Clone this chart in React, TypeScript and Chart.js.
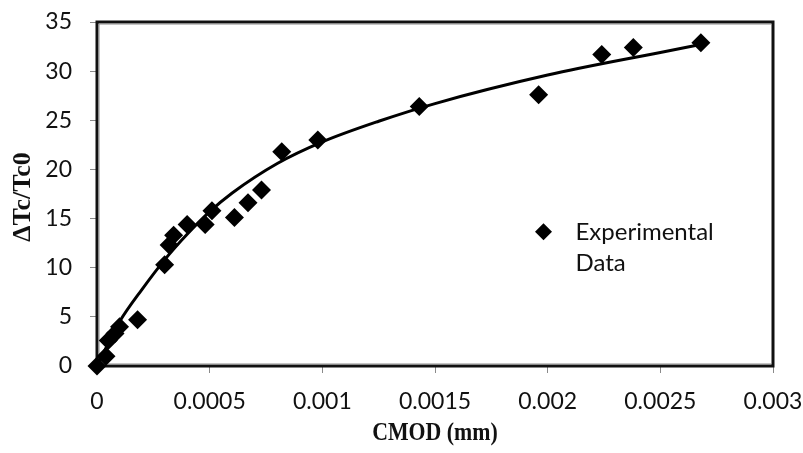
import React, { useEffect, useRef } from "react";
import { Chart, registerables } from "chart.js";

Chart.register(...registerables);

// Experimental data (CMOD in mm, ΔTc/Tc0)
const cmodExp = [0, 0.00004, 0.00005, 0.00008, 0.0001, 0.00018, 0.0003, 0.00032, 0.00034, 0.0004, 0.00048, 0.00051, 0.00061, 0.00067, 0.00073, 0.00082, 0.00098, 0.00143, 0.00196, 0.00224, 0.00238, 0.00268];
const ratioExp = [0, 1.0, 2.6, 3.3, 4.0, 4.7, 10.3, 12.3, 13.3, 14.4, 14.4, 15.8, 15.1, 16.6, 17.9, 21.8, 23.0, 26.4, 27.6, 31.7, 32.4, 32.9];

// Trend line
const cmodFit = [0, 0.00005, 0.0001, 0.0002, 0.0003, 0.0004, 0.0005, 0.0006, 0.0008, 0.001, 0.00125, 0.0015, 0.002, 0.0025, 0.0027];
const ratioFit = [0, 2.3, 4.5, 7.8, 10.8, 13.4, 15.7, 17.6, 20.6, 22.8, 24.9, 26.7, 29.6, 31.9, 32.8];

const legendLines = ["Experimental", "Data"];
const xTitle = "CMOD (mm)";
const yTitle = "ΔTc/Tc0";

const sansFamily = "Lato, 'Open Sans', sans-serif";
const serifFamily = "'Liberation Serif', 'Times New Roman', serif";
const tickFont = { family: sansFamily, size: 23 };

const framePlugin = {
  id: "frame",
  beforeDatasetsDraw(chart: any) {
    const { ctx, chartArea: a } = chart;
    ctx.save();
    ctx.strokeStyle = "#111";
    ctx.lineWidth = 3;
    ctx.strokeRect(a.left, a.top, a.right - a.left, a.bottom - a.top);
    ctx.strokeStyle = "#8a8a8a";
    ctx.lineWidth = 1;
    ctx.beginPath();
    ctx.moveTo(a.left + 2, a.top + 2);
    ctx.lineTo(a.left + 2, a.bottom - 2);
    ctx.lineTo(a.right - 2, a.bottom - 2);
    ctx.moveTo(a.left + 2, a.top + 2);
    ctx.lineTo(a.right - 2, a.top + 2);
    ctx.stroke();
    ctx.restore();
  },
};

const titlesPlugin = {
  id: "titles",
  afterDraw(chart: any) {
    const { ctx, chartArea: a } = chart;
    ctx.save();
    ctx.fillStyle = "#111";
    ctx.textAlign = "center";
    ctx.textBaseline = "middle";
    ctx.font = `bold 26px ${serifFamily}`;
    // x title (condensed)
    ctx.save();
    ctx.translate((a.left + a.right) / 2, 433);
    ctx.scale(0.84, 1);
    ctx.fillText(xTitle, 0, 0);
    ctx.restore();
    // y title (rotated)
    ctx.save();
    ctx.translate(23, (a.top + a.bottom) / 2 + 3);
    ctx.rotate(-Math.PI / 2);
    ctx.fillText(yTitle, 0, 0);
    ctx.restore();
    ctx.restore();
  },
};

const legendPlugin = {
  id: "customLegend",
  afterDraw(chart: any) {
    const { ctx, chartArea: a } = chart;
    const mx = a.left + (a.right - a.left) * 0.6605;
    const my = a.top + (a.bottom - a.top) * 0.61;
    ctx.save();
    ctx.fillStyle = "#000";
    ctx.beginPath();
    const r = 8.5;
    ctx.moveTo(mx, my - r);
    ctx.lineTo(mx + r, my);
    ctx.lineTo(mx, my + r);
    ctx.lineTo(mx - r, my);
    ctx.closePath();
    ctx.fill();
    ctx.font = `24px ${sansFamily}`;
    ctx.textBaseline = "middle";
    ctx.textAlign = "left";
    ctx.fillStyle = "#111";
    legendLines.forEach((t, i) => ctx.fillText(t, mx + 32, my + i * 31));
    ctx.restore();
  },
};

export default function App() {
  const ref = useRef<HTMLCanvasElement | null>(null);
  useEffect(() => {
    if (!ref.current) return;
    const chart = new Chart(ref.current, {
      type: "scatter",
      data: {
        datasets: [
          {
            type: "line",
            label: "Trend",
            data: cmodFit.map((x, i) => ({ x, y: ratioFit[i] })),
            borderColor: "#000",
            borderWidth: 3,
            pointRadius: 0,
            cubicInterpolationMode: "monotone",
            fill: false,
            order: 2,
          } as any,
          {
            label: "Experimental Data",
            data: cmodExp.map((x, i) => ({ x, y: ratioExp[i] })),
            pointStyle: "rectRot",
            pointRadius: 9.5,
            backgroundColor: "#000",
            borderColor: "#000",
            borderWidth: 0,
            clip: false,
            order: 1,
          } as any,
        ],
      },
      options: {
        animation: false,
        responsive: false,
        maintainAspectRatio: false,
        layout: { padding: { top: 22, right: 30, bottom: 0, left: 0 } },
        plugins: { legend: { display: false }, tooltip: { enabled: false } },
        scales: {
          x: {
            type: "linear",
            min: 0,
            max: 0.003,
            ticks: {
              stepSize: 0.0005,
              color: "#111",
              font: tickFont,
              padding: 15,
              maxRotation: 0,
              callback: (v: any) => String(Number(Number(v).toFixed(4))),
            },
            grid: { display: true, drawOnChartArea: false, drawTicks: true, tickLength: 7, color: "#8a8a8a" },
            border: { display: false },
            title: { display: false },
            afterFit: (s: any) => {
              s.height = 87;
              s.paddingLeft = 0;
              s.paddingRight = 0;
            },
          },
          y: {
            type: "linear",
            min: 0,
            max: 35,
            ticks: { stepSize: 5, color: "#111", font: tickFont, padding: 18 },
            grid: { display: true, drawOnChartArea: false, drawTicks: true, tickLength: 7, color: "#8a8a8a" },
            border: { display: false },
            title: { display: false },
            afterFit: (s: any) => {
              s.width = 97;
              s.paddingTop = 0;
              s.paddingBottom = 0;
            },
          },
        },
      },
      plugins: [framePlugin, titlesPlugin, legendPlugin],
    });
    return () => chart.destroy();
  }, []);
  return (
    <div style={{ position: "absolute", left: 0, top: 0, width: 803, height: 453, background: "#fff" }}>
      <canvas ref={ref} width={803} height={453} style={{ display: "block" }} />
    </div>
  );
}
